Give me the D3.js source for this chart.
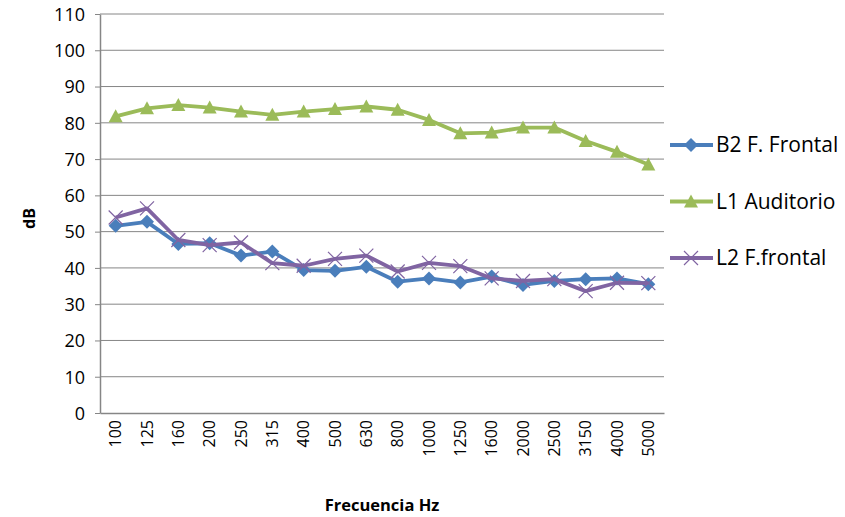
<!DOCTYPE html>
<html>
<head>
<meta charset="utf-8">
<script src="https://cdn.jsdelivr.net/npm/d3@7"></script>
<style>
  body { margin: 0; background: #fff; }
  text { font-family: "Open Sans", "Liberation Sans", sans-serif; fill: #000; }
</style>
</head>
<body>
<svg id="chart"></svg>
<script>
// Data
const frequencies = ["100", "125", "160", "200", "250", "315", "400", "500", "630", "800",
    "1000", "1250", "1600", "2000", "2500", "3150", "4000", "5000"];
const b2Frontal = [51.6, 52.7, 46.6, 46.8, 43.4, 44.5, 39.4, 39.2, 40.3, 36.2,
    37.1, 36.0, 37.6, 35.3, 36.4, 36.9, 37.1, 35.5];
const l1Auditorio = [81.8, 84.0, 84.9, 84.2, 83.1, 82.2, 83.1, 83.8, 84.5, 83.6,
    80.8, 77.1, 77.3, 78.7, 78.7, 75.0, 72.0, 68.5];
const l2Frontal = [53.9, 56.4, 47.7, 46.3, 47.0, 41.3, 40.6, 42.5, 43.4, 39.0,
    41.4, 40.5, 37.1, 36.4, 36.9, 33.6, 35.9, 35.8];
const yTicks = [0, 10, 20, 30, 40, 50, 60, 70, 80, 90, 100, 110];

const series = [
    {name: "B2 F. Frontal", values: b2Frontal, color: "#4A7EBB", marker: "diamond"},
    {name: "L1 Auditorio", values: l1Auditorio, color: "#9BBB59", marker: "triangle"},
    {name: "L2 F.frontal", values: l2Frontal, color: "#8064A2", marker: "cross"}
];

const width = 845, height = 517;
const margin = {top: 14, right: 181, bottom: 104, left: 100};
const innerW = width - margin.left - margin.right;
const innerH = height - margin.top - margin.bottom;

const svg = d3.select("#chart")
    .attr("width", width)
    .attr("height", height);

const chart = svg.append("g")
    .attr("transform", `translate(${margin.left},${margin.top})`);

const xScale = d3.scaleBand()
    .domain(frequencies)
    .range([0, innerW]);

const yScale = d3.scaleLinear()
    .domain([0, 110])
    .range([innerH, 0]);

// Gridlines
chart.append("g")
    .selectAll("line")
    .data(yTicks.filter(d => d > 0))
    .join("line")
    .attr("x1", 0)
    .attr("x2", innerW)
    .attr("y1", d => yScale(d))
    .attr("y2", d => yScale(d))
    .attr("stroke", "#868686")
    .attr("stroke-width", 1);

// Y axis
const yAxisG = chart.append("g")
    .call(d3.axisLeft(yScale).tickValues(yTicks).tickSize(5).tickSizeOuter(0).tickPadding(10));
yAxisG.select(".domain").attr("stroke", "#868686").attr("stroke-width", 1.5);
yAxisG.selectAll(".tick line").attr("stroke", "#868686");
yAxisG.selectAll(".tick text")
    .style("font-size", "18px")
    .attr("dy", "0.35em");

// X axis
const xAxisG = chart.append("g")
    .attr("transform", `translate(0,${innerH})`)
    .call(d3.axisBottom(xScale).tickSize(0).tickSizeOuter(0));
xAxisG.select(".domain").attr("stroke", "#868686").attr("stroke-width", 1.5);
xAxisG.selectAll(".tick text")
    .style("font-size", "16px")
    .attr("transform", "rotate(-90)")
    .attr("text-anchor", "end")
    .attr("x", -7)
    .attr("y", 0)
    .attr("dy", "0.35em");

// Axis titles
svg.append("text")
    .attr("transform", `translate(35,${margin.top + innerH / 2 + 5}) rotate(-90)`)
    .attr("text-anchor", "middle")
    .style("font-size", "16px")
    .style("font-weight", "bold")
    .text("dB");

svg.append("text")
    .attr("x", 382)
    .attr("y", 511)
    .attr("text-anchor", "middle")
    .style("font-size", "16.5px")
    .style("font-weight", "bold")
    .text("Frecuencia Hz");

// Marker drawing
function drawMarker(g, type, color) {
    if (type === "diamond") {
        g.append("path")
            .attr("d", "M0,-7L7,0L0,7L-7,0Z")
            .attr("fill", color);
    } else if (type === "triangle") {
        g.append("path")
            .attr("d", "M0,-7L7,6L-7,6Z")
            .attr("fill", color);
    } else {
        g.append("path")
            .attr("d", "M-7,-7L7,7M-7,7L7,-7")
            .attr("stroke", color)
            .attr("stroke-width", 1.2)
            .attr("fill", "none");
    }
}

const line = d3.line()
    .x((d, i) => xScale(frequencies[i]) + xScale.bandwidth() / 2)
    .y(d => yScale(d));

series.forEach(s => {
    chart.append("path")
        .datum(s.values)
        .attr("d", line)
        .attr("fill", "none")
        .attr("stroke", s.color)
        .attr("stroke-width", 3.8)
        .attr("stroke-linejoin", "round");

    chart.append("g")
        .selectAll("g")
        .data(s.values)
        .join("g")
        .attr("transform", (d, i) => `translate(${xScale(frequencies[i]) + xScale.bandwidth() / 2},${yScale(d)})`)
        .each(function() { drawMarker(d3.select(this), s.marker, s.color); });
});

// Legend
const legend = svg.append("g")
    .attr("transform", "translate(670,145)");

const legendItem = legend.selectAll("g")
    .data(series)
    .join("g")
    .attr("transform", (d, i) => `translate(0,${i * 56.5})`);

legendItem.append("line")
    .attr("x1", 0)
    .attr("x2", 43)
    .attr("stroke", d => d.color)
    .attr("stroke-width", 3.8);

legendItem.each(function(d) {
    const mg = d3.select(this).append("g").attr("transform", "translate(21,0)");
    drawMarker(mg, d.marker, d.color);
});

legendItem.append("text")
    .attr("x", 46)
    .attr("dy", "0.35em")
    .style("font-size", "21px")
    .text(d => d.name);
</script>
</body>
</html>
